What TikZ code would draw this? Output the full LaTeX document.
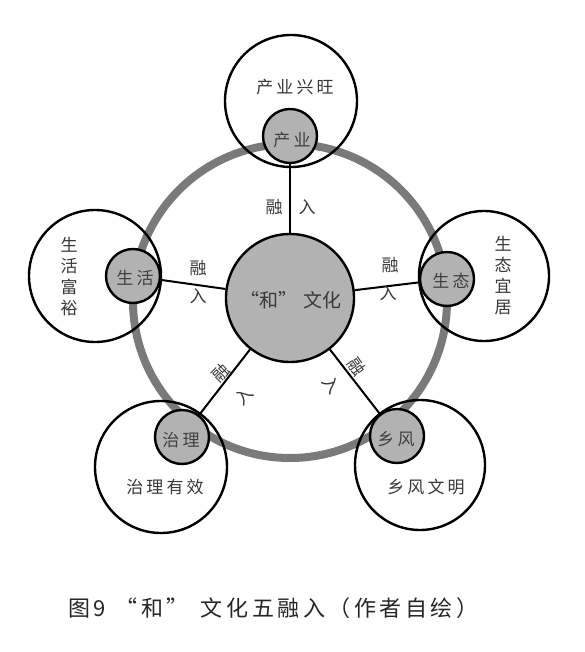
\documentclass[tikz,border=0pt]{standalone}
\usepackage{fontspec}
\newfontfamily\cjk{Noto Sans CJK SC}
\newfontfamily\cjksp[LetterSpace=18]{Noto Sans CJK SC}
\newfontfamily\cjkcap[LetterSpace=16]{Noto Sans CJK SC}
\begin{document}
\begin{tikzpicture}[x=1pt,y=-1pt,
  ringline/.style={draw=black!52, line width=8pt},
  bigc/.style={circle, draw=black, line width=2.4pt, inner sep=0pt, minimum size=132pt},
  smallc/.style={circle, draw=black, line width=2.4pt, fill=black!30, inner sep=0pt, minimum size=54pt},
  centc/.style={circle, draw=black, line width=2.4pt, fill=black!30, inner sep=0pt, minimum size=128pt},
  conn/.style={draw=black, line width=2pt},
  lbl/.style={text=black!78, inner sep=0pt, font=\cjk\fontsize{17}{17}\selectfont},
  biglbl/.style={text=black!78, inner sep=0pt, font=\cjksp\fontsize{17}{17}\selectfont},
  vlbl/.style={text=black!78, inner sep=0pt, align=center, font=\cjk\fontsize{17}{21}\selectfont},
  smlbl/.style={text=black!75, inner sep=0pt, font=\cjksp\fontsize{17}{17}\selectfont}]
\useasboundingbox (0,0) rectangle (585,652);
\fill[white] (0,0) rectangle (585,652);

% ring
\coordinate (rc) at (290,301);
\draw[ringline] (rc) circle[radius=157pt];

% big circles
\node[bigc] (b1) at (291,101) {};
\node[bigc] (b2) at (95,276) {};
\node[bigc, minimum size=130pt] (b3) at (484,276) {};
\node[bigc] (b4) at (161,467) {};
\node[bigc, minimum size=130pt] (b5) at (420,465) {};

% central circle
\node[centc] (c) at (290,298) {};

% small circles
\node[smallc] (s1) at (290,136) {};
\node[smallc] (s2) at (133,276) {};
\node[smallc] (s3) at (447,279) {};
\node[smallc] (s4) at (182,437) {};
\node[smallc] (s5) at (397,436) {};

% connectors
\draw[conn] (c) -- (s1);
\draw[conn] (c) -- (s2);
\draw[conn] (c) -- (s3);
\draw[conn] (c) -- (s4);
\draw[conn] (c) -- (s5);

% central text
\node[lbl, font=\cjk\fontsize{19}{19}\selectfont] (ct) at (291,300) {“和”\hspace{6pt}文化};

% small circle labels
\node[smlbl] (t1) at (292,140) {产业};
\node[smlbl] (t2) at (135,278) {生活};
\node[smlbl] (t3) at (451,281) {生态};
\node[smlbl] (t4) at (181,440) {治理};
\node[smlbl] (t5) at (396,439) {乡风};

% big circle labels
\node[biglbl] (bt1) at (295,87) {产业兴旺};
\node[vlbl] (bt2) at (69,277) {生\\活\\富\\裕};
\node[vlbl] (bt3) at (503,276) {生\\态\\宜\\居};
\node[biglbl] (bt4) at (165,487) {治理有效};
\node[biglbl] (bt5) at (426,487) {乡风文明};

% rong ru labels
\node[lbl] (r1a) at (274,207) {融};
\node[lbl] (r1b) at (307,207) {入};
\node[lbl] (r2a) at (198,268) {融};
\node[lbl] (r2b) at (198,296) {入};
\node[lbl] (r3a) at (390,265) {融};
\node[lbl] (r3b) at (388,293) {入};
\node[lbl, rotate=45] (r4a) at (221,373) {融};
\node[lbl, rotate=45] (r4b) at (244,396) {入};
\node[lbl, rotate=-55] (r5a) at (357,367) {融};
\node[lbl, rotate=-55] (r5b) at (332,385) {入};

% caption
\node[text=black!85, inner sep=0pt, anchor=west, font=\cjkcap\fontsize{22}{22}\selectfont] (cap) at (68,608)
  {图9\hspace{10pt}“和”\hspace{12pt}文化五融入（作者自绘）};
\end{tikzpicture}
\end{document}
